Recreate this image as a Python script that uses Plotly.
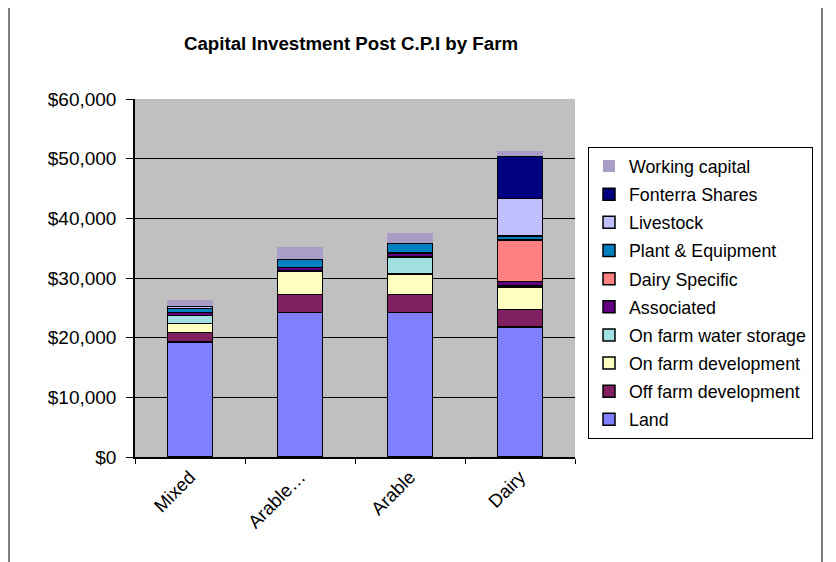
import plotly.graph_objects as go

categories = ["Mixed", "Arable…", "Arable", "Dairy"]

series_names = [
    "Land",
    "Off farm development",
    "On farm development",
    "On farm water storage",
    "Associated",
    "Dairy Specific",
    "Plant & Equipment",
    "Livestock",
    "Fonterra Shares",
    "Working capital",
]

land = [19300, 24250, 24200, 21800]
off_farm = [1550, 2970, 3000, 2900]
on_farm = [1540, 3960, 3450, 3790]
water_storage = [1360, 0, 2900, 280]
associated = [450, 570, 670, 670]
dairy_specific = [0, 0, 0, 6920]
plant_equipment = [670, 1440, 1680, 670]
livestock = [390, 0, 0, 6270]
fonterra = [0, 0, 0, 7090]
working_capital = [1070, 2010, 1680, 840]

values = [land, off_farm, on_farm, water_storage, associated, dairy_specific,
          plant_equipment, livestock, fonterra, working_capital]

colors = ["#8080FF", "#802060", "#FFFFC0", "#A0E0E0", "#600080", "#FF8080",
          "#0080C0", "#C0C0FF", "#000080", "#A99DC5"]

FONT = "Liberation Sans, Arial, sans-serif"

fig = go.Figure()
n = len(series_names)
for i, (name, vals, col) in enumerate(zip(series_names, values, colors)):
    lw = 0 if name == "Working capital" else 1.5
    fig.add_trace(go.Bar(
        x=categories, y=vals, name=name, legendgroup=name,
        legendrank=n - i,
        marker=dict(color=col, line=dict(color="black", width=lw)),
        width=0.41,
    ))

# page body has an 8px margin; compensate so the figure lands on the reference
OFF = 8
W, H = 836 - OFF, 562 - OFF
PL, PR, PT, PB = 135, 575, 99, 457  # plot area in window pixels
L, R, T, B = PL - OFF, 836 - PR, PT - OFF, 562 - PB
pw, ph = PR - PL, PB - PT

fig.update_layout(
    width=W, height=H,
    margin=dict(l=L, r=R, t=T, b=B, pad=0),
    barmode="stack",
    paper_bgcolor="white",
    plot_bgcolor="#C0C0C0",
    font=dict(family=FONT, size=18, color="black"),
    title=dict(text="<b>Capital Investment Post C.P.I by Farm</b>",
               x=(351 - OFF) / W, xanchor="center",
               y=1 - (43 - OFF) / H, yanchor="middle",
               font=dict(family=FONT, size=18.7, color="black")),
    xaxis=dict(
        type="category", tickangle=-45, showline=True, linecolor="black",
        linewidth=2, ticks="outside", tickson="boundaries", ticklen=5,
        tickcolor="black", showgrid=False, tickfont=dict(size=18.5),
    ),
    yaxis=dict(
        range=[0, 60000], dtick=10000, tickprefix="$", tickformat=",d",
        showline=True, linecolor="black", linewidth=1.5, ticks="outside",
        ticklen=7, tickcolor="black", showgrid=True, gridcolor="black",
        gridwidth=1, zeroline=False, tickfont=dict(size=19),
        ticklabelstandoff=6,
    ),
    legend=dict(
        x=(588 - PL) / pw, xanchor="left", y=(PB - 147) / ph, yanchor="top",
        bordercolor="black", borderwidth=1, bgcolor="white",
        traceorder="grouped", tracegroupgap=2,
        font=dict(size=17.8), itemwidth=30,
    ),
    shapes=[dict(
        type="rect", xref="paper", yref="paper",
        x0=(9 - PL) / pw, x1=(822 - PL) / pw,
        y0=-0.4, y1=(PB - 3) / ph,
        line=dict(color="black", width=1), fillcolor="rgba(0,0,0,0)",
        layer="below",
    )],
)

fig.write_html("out.html")
